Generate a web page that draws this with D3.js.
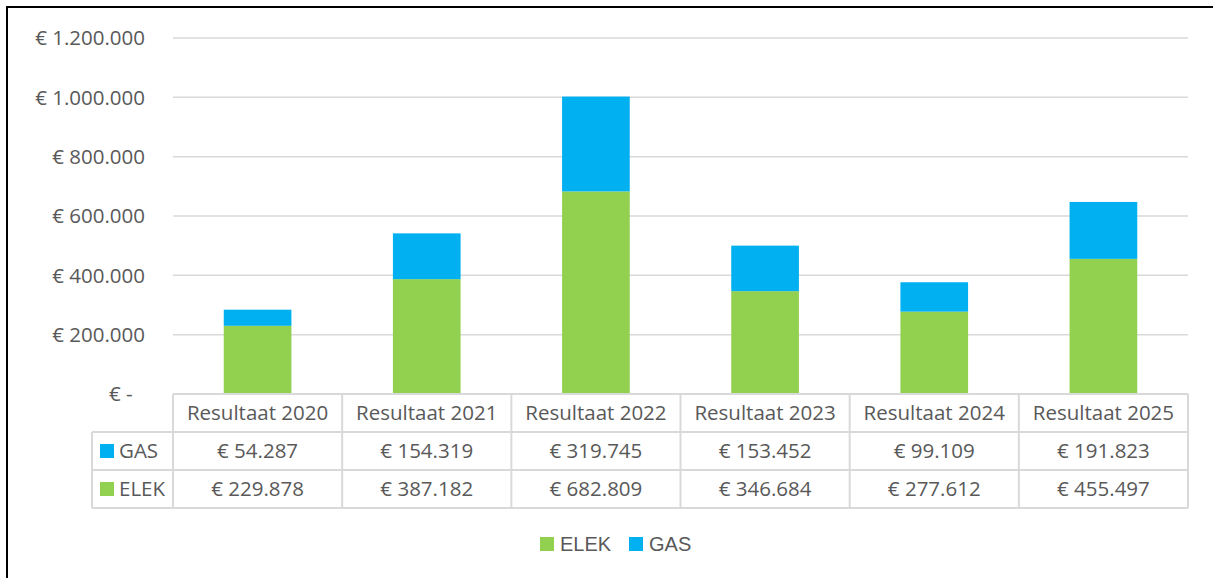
<!DOCTYPE html>
<html>
<head>
<meta charset="utf-8">
<script src="https://cdn.jsdelivr.net/npm/d3@7"></script>
<style>
  body { margin: 0; background: #fff; }
  svg { display: block; }
  text { fill: #595959; }
</style>
</head>
<body>
<div id="chart"></div>
<script>
// Categorieën en waarden
const categories = ['Resultaat 2020', 'Resultaat 2021', 'Resultaat 2022', 'Resultaat 2023', 'Resultaat 2024', 'Resultaat 2025'];
const elek = [229878, 387182, 682809, 346684, 277612, 455497];
const gas = [54287, 154319, 319745, 153452, 99109, 191823];
const yTicks = [0, 200000, 400000, 600000, 800000, 1000000, 1200000];

const colors = { ELEK: '#92D050', GAS: '#00B0F0' };
const tableFont = "'Open Sans', sans-serif";
const tableSize = '20.5px';

const width = 1213, height = 578;
const plot = { left: 173, right: 1188, top: 38, bottom: 394 };

const svg = d3.select('#chart')
  .append('svg')
  .attr('width', width)
  .attr('height', height);

// Rand van de grafiek
svg.append('rect')
  .attr('x', 7).attr('y', 7)
  .attr('width', width + 10).attr('height', height + 10)
  .attr('fill', 'none')
  .attr('stroke', '#000')
  .attr('stroke-width', 2);

// Schalen
const x = d3.scaleBand()
  .domain(categories)
  .range([plot.left, plot.right])
  .paddingInner(0.6)
  .paddingOuter(0.3);

const y = d3.scaleLinear()
  .domain([0, 1200000])
  .range([plot.bottom, plot.top]);

// Rasterlijnen
svg.append('g')
  .selectAll('line')
  .data(yTicks.slice(1))
  .join('line')
  .attr('x1', plot.left).attr('x2', plot.right)
  .attr('y1', d => y(d)).attr('y2', d => y(d))
  .attr('stroke', '#D9D9D9')
  .attr('stroke-width', 1.5);

// Y-as labels
const fmt = d => d === 0 ? '€ -' : '€ ' + d3.format(',')(d).replace(/,/g, '.');
svg.append('g')
  .selectAll('text')
  .data(yTicks)
  .join('text')
  .attr('x', d => d === 0 ? 109 : 145)
  .attr('y', d => y(d))
  .attr('dy', '0.35em')
  .attr('text-anchor', d => d === 0 ? 'start' : 'end')
  .style('font-family', tableFont)
  .style('font-size', tableSize)
  .text(fmt);

// Gestapelde data
const rows = categories.map((c, i) => ({ cat: c, ELEK: elek[i], GAS: gas[i] }));
const stack = d3.stack().keys(['ELEK', 'GAS'])(rows);

svg.append('g')
  .selectAll('g')
  .data(stack)
  .join('g')
  .attr('fill', s => colors[s.key])
  .selectAll('rect')
  .data(s => s)
  .join('rect')
  .attr('x', d => x(d.data.cat))
  .attr('width', x.bandwidth())
  .attr('y', d => y(d[1]))
  .attr('height', d => y(d[0]) - y(d[1]));

// Datatabel
const colW = (plot.right - plot.left) / categories.length;
const rowH = 38;
const labelLeft = 92;
const grid = svg.append('g')
  .attr('stroke', '#D9D9D9')
  .attr('stroke-width', 2)
  .attr('fill', 'none');

// Horizontale lijnen
grid.append('line').attr('x1', plot.left).attr('x2', plot.right).attr('y1', plot.bottom).attr('y2', plot.bottom);
[1, 2, 3].forEach(r => {
  grid.append('line')
    .attr('x1', labelLeft).attr('x2', plot.right)
    .attr('y1', plot.bottom + r * rowH).attr('y2', plot.bottom + r * rowH);
});
// Verticale lijnen
grid.append('line').attr('x1', labelLeft).attr('x2', labelLeft).attr('y1', plot.bottom + rowH).attr('y2', plot.bottom + 3 * rowH);
d3.range(categories.length + 1).forEach(i => {
  grid.append('line')
    .attr('x1', plot.left + i * colW).attr('x2', plot.left + i * colW)
    .attr('y1', plot.bottom).attr('y2', plot.bottom + 3 * rowH);
});

const money = d => '€ ' + d3.format(',')(d).replace(/,/g, '.');

// Koprij
svg.append('g')
  .selectAll('text')
  .data(categories)
  .join('text')
  .attr('x', d => x(d) + x.bandwidth() / 2)
  .attr('y', plot.bottom + rowH / 2)
  .attr('dy', '0.35em')
  .attr('text-anchor', 'middle')
  .style('font-family', tableFont)
  .style('font-size', tableSize)
  .text(d => d);

const tableRows = [
  { key: 'GAS', values: gas },
  { key: 'ELEK', values: elek }
];

tableRows.forEach((r, ri) => {
  const cy = plot.bottom + (ri + 1) * rowH + rowH / 2;
  svg.append('rect')
    .attr('x', 100).attr('y', cy - 7)
    .attr('width', 14).attr('height', 14)
    .attr('fill', colors[r.key]);
  svg.append('text')
    .attr('x', 119).attr('y', cy)
    .attr('dy', '0.35em')
    .style('font-family', tableFont)
    .style('font-size', tableSize)
    .text(r.key);
  svg.append('g')
    .selectAll('text')
    .data(r.values)
    .join('text')
    .attr('x', (d, i) => x(categories[i]) + x.bandwidth() / 2)
    .attr('y', cy)
    .attr('dy', '0.35em')
    .attr('text-anchor', 'middle')
    .style('font-family', tableFont)
    .style('font-size', tableSize)
    .text(money);
});

// Legenda
const legend = [
  { key: 'ELEK', x: 540 },
  { key: 'GAS', x: 629 }
];
legend.forEach(l => {
  svg.append('rect')
    .attr('x', l.x).attr('y', 537)
    .attr('width', 14).attr('height', 14)
    .attr('fill', colors[l.key]);
  svg.append('text')
    .attr('x', l.x + 20).attr('y', 544)
    .attr('dy', '0.35em')
    .style('font-family', "'Liberation Sans', Arial, sans-serif")
    .style('font-size', '20px')
    .text(l.key);
});
</script>
</body>
</html>
